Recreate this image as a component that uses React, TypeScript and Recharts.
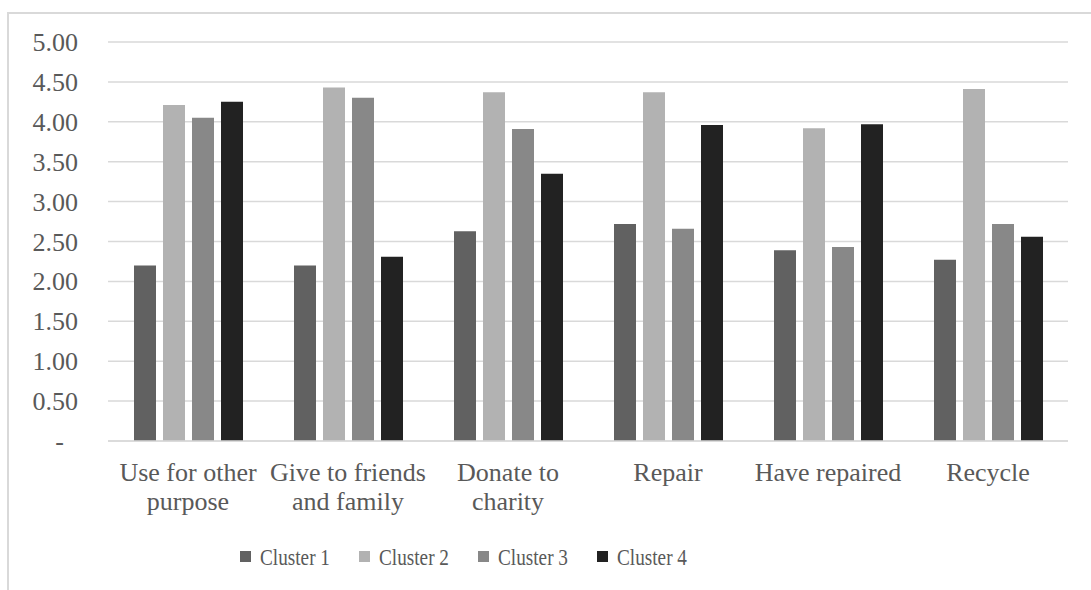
import React from 'react'
import { BarChart, Bar, XAxis, YAxis, CartesianGrid, Legend } from 'recharts'

const categories = [
  'Use for other\npurpose',
  'Give to friends\nand family',
  'Donate to\ncharity',
  'Repair',
  'Have repaired',
  'Recycle',
]

const cluster1 = [2.2, 2.2, 2.63, 2.72, 2.39, 2.27]
const cluster2 = [4.21, 4.43, 4.37, 4.37, 3.92, 4.41]
const cluster3 = [4.05, 4.3, 3.91, 2.66, 2.43, 2.72]
const cluster4 = [4.25, 2.31, 3.35, 3.96, 3.97, 2.56]

const yTicks = [0, 0.5, 1, 1.5, 2, 2.5, 3, 3.5, 4, 4.5, 5]

const seriesNames = ['Cluster 1', 'Cluster 2', 'Cluster 3', 'Cluster 4']
const seriesColors = ['#616161', '#b2b2b2', '#888888', '#222222']

const data = categories.map((name, i) => ({
  name,
  c1: cluster1[i],
  c2: cluster2[i],
  c3: cluster3[i],
  c4: cluster4[i],
}))

const FONT = '"Liberation Serif", "Times New Roman", serif'
const TEXT = '#595959'
const GRID = '#d9d9d9'

// y labels sit right-aligned left of the plot; zero shows as a dash
const YTick = (props: any) => {
  const { y, payload } = props
  const v = payload.value as number
  if (v === 0) {
    return (
      <text x={64} y={y} dy={9} textAnchor="end" fontSize={26} fontFamily={FONT} fill={TEXT}>
        -
      </text>
    )
  }
  return (
    <text x={78} y={y} dy={9} textAnchor="end" fontSize={26} fontFamily={FONT} fill={TEXT}>
      {v.toFixed(2)}
    </text>
  )
}

const XTick = (props: any) => {
  const { x, y, payload } = props
  const lines = String(payload.value).split('\n')
  return (
    <text x={x} y={y} textAnchor="middle" fontSize={26} fontFamily={FONT} fill={TEXT}>
      {lines.map((line, i) => (
        <tspan key={i} x={x} dy={i === 0 ? 32 : 29}>
          {line}
        </tspan>
      ))}
    </text>
  )
}

const LegendContent = () => (
  <svg width={1091} height={34}>
    {seriesNames.map((name, i) => {
      const sx = 240 + i * 119
      return (
        <g key={name}>
          <rect x={sx} y={11} width={11} height={11} fill={seriesColors[i]} />
          <text
            x={sx + 20}
            y={25}
            fontSize={23}
            fontFamily={FONT}
            fill={TEXT}
            textLength={70}
            lengthAdjust="spacingAndGlyphs"
          >
            {name}
          </text>
        </g>
      )
    })}
  </svg>
)

export default function App() {
  return (
    <div
      style={{
        position: 'fixed',
        left: 0,
        top: 0,
        width: 1091,
        height: 590,
        overflow: 'hidden',
        background: '#fff',
      }}
    >
      {/* chart frame, cut off at the right and bottom */}
      <div
        style={{
          position: 'absolute',
          left: 7,
          top: 12,
          width: 1200,
          height: 700,
          border: `2px solid ${GRID}`,
          boxSizing: 'border-box',
        }}
      />
      <div style={{ position: 'absolute', left: 0, top: 0 }}>
        <BarChart
          width={1091}
          height={590}
          data={data}
          margin={{ top: 42, right: 23, bottom: 55, left: 0 }}
          barSize={22}
          barGap={7}
        >
          <CartesianGrid vertical={false} stroke={GRID} strokeWidth={1.5} />
          <XAxis
            dataKey="name"
            interval={0}
            height={60}
            tickLine={false}
            axisLine={{ stroke: GRID, strokeWidth: 1.5 }}
            tick={<XTick />}
          />
          <YAxis
            width={108}
            domain={[0, 5]}
            ticks={yTicks}
            axisLine={false}
            tickLine={false}
            tick={<YTick />}
          />
          <Legend
            verticalAlign="bottom"
            content={<LegendContent />}
            wrapperStyle={{ position: 'absolute', left: 0, top: 540, width: 1091, height: 34 }}
          />
          <Bar dataKey="c1" name={seriesNames[0]} fill={seriesColors[0]} isAnimationActive={false} />
          <Bar dataKey="c2" name={seriesNames[1]} fill={seriesColors[1]} isAnimationActive={false} />
          <Bar dataKey="c3" name={seriesNames[2]} fill={seriesColors[2]} isAnimationActive={false} />
          <Bar dataKey="c4" name={seriesNames[3]} fill={seriesColors[3]} isAnimationActive={false} />
        </BarChart>
      </div>
    </div>
  )
}
